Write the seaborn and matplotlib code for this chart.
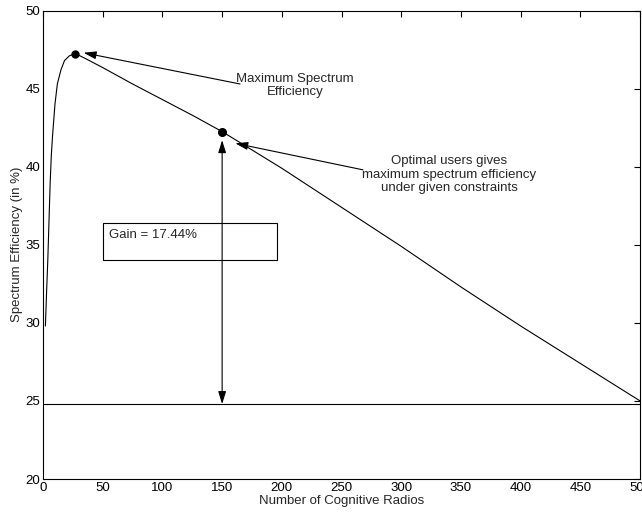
import numpy as np
import pandas as pd
import matplotlib
matplotlib.use('Agg')
import matplotlib.pyplot as plt
import seaborn as sns
from matplotlib.patches import Rectangle

# 읽어낸 데이터
radios = [2, 3, 4, 5, 6, 7, 8, 10, 12, 15, 18, 22, 27, 35, 50, 75, 100, 125, 150,
          200, 250, 300, 350, 400, 450, 500]
efficiency = [29.8, 32.0, 34.0, 36.5, 39.0, 40.8, 42.0, 44.0, 45.3, 46.2, 46.8, 47.1, 47.25,
              46.95, 46.35, 45.3, 44.3, 43.3, 42.25, 39.9, 37.4, 34.9, 32.3, 29.8, 27.4, 25.0]
baseline_x = [0, 500]
baseline_y = [24.8, 24.8]
peak = (27, 47.25)
optimal = (150, 42.25)
gain_text = 'Gain = 17.44%'
xticks = [0, 50, 100, 150, 200, 250, 300, 350, 400, 450, 500]
yticks = [20, 25, 30, 35, 40, 45, 50]

sns.set_style('white')
plt.rcParams['font.family'] = ['Liberation Sans', 'DejaVu Sans']
plt.rcParams['font.size'] = 9.5

curve = pd.DataFrame({'radios': radios, 'efficiency': efficiency})
base = pd.DataFrame({'radios': baseline_x, 'efficiency': baseline_y})

fig = plt.figure(figsize=(6.42, 5.17), dpi=100)
ax = fig.add_axes([0.067, 0.0735, 0.93, 0.906])

sns.lineplot(x='radios', y='efficiency', data=curve, color='black', linewidth=0.8, ax=ax)
sns.lineplot(x='radios', y='efficiency', data=base, color='black', linewidth=0.8, ax=ax)
ax.plot(*peak, 'o', color='black', markersize=5)
ax.plot(*optimal, 'o', color='black', markersize=5.5)

arrow = dict(arrowstyle='-|>,head_length=0.8,head_width=0.25', color='black', lw=0.8,
             shrinkA=0, shrinkB=0)

# 최대 스펙트럼 효율 주석
ax.annotate('', xy=(34, 47.3), xytext=(165, 45.3), arrowprops=arrow)
ax.text(211, 45.2, 'Maximum Spectrum\nEfficiency', ha='center', va='center', fontsize=9.5)

# 최적 사용자 주석
ax.annotate('', xy=(161, 41.5), xytext=(268, 39.8), arrowprops=arrow)
ax.text(340, 39.5, 'Optimal users gives\nmaximum spectrum efficiency\nunder given constraints',
        ha='center', va='center', fontsize=9.5)

# 이득 화살표 및 박스
ax.annotate('', xy=(150, 41.7), xytext=(150, 24.8),
            arrowprops=dict(arrowstyle='<|-|>,head_length=0.8,head_width=0.25', color='black',
                            lw=0.8, shrinkA=0, shrinkB=0))
ax.add_patch(Rectangle((50, 34.0), 146, 2.4, fill=False, edgecolor='black', linewidth=0.8))
ax.text(55, 35.6, gain_text, ha='left', va='center', fontsize=9.5)

ax.set_xlim(0, 500)
ax.set_ylim(20, 50)
ax.set_xticks(xticks)
ax.set_yticks(yticks)
ax.tick_params(direction='in', top=True, right=True, length=4, width=0.8, colors='black',
               labelsize=9.5, pad=2)
for s in ax.spines.values():
    s.set_color('black')
    s.set_linewidth(0.8)
ax.set_xlabel('Number of Cognitive Radios', fontsize=9.5, labelpad=1)
ax.set_ylabel('Spectrum Efficiency (in %)', fontsize=9.5, labelpad=2)

fig.savefig('out.png', dpi=100)
